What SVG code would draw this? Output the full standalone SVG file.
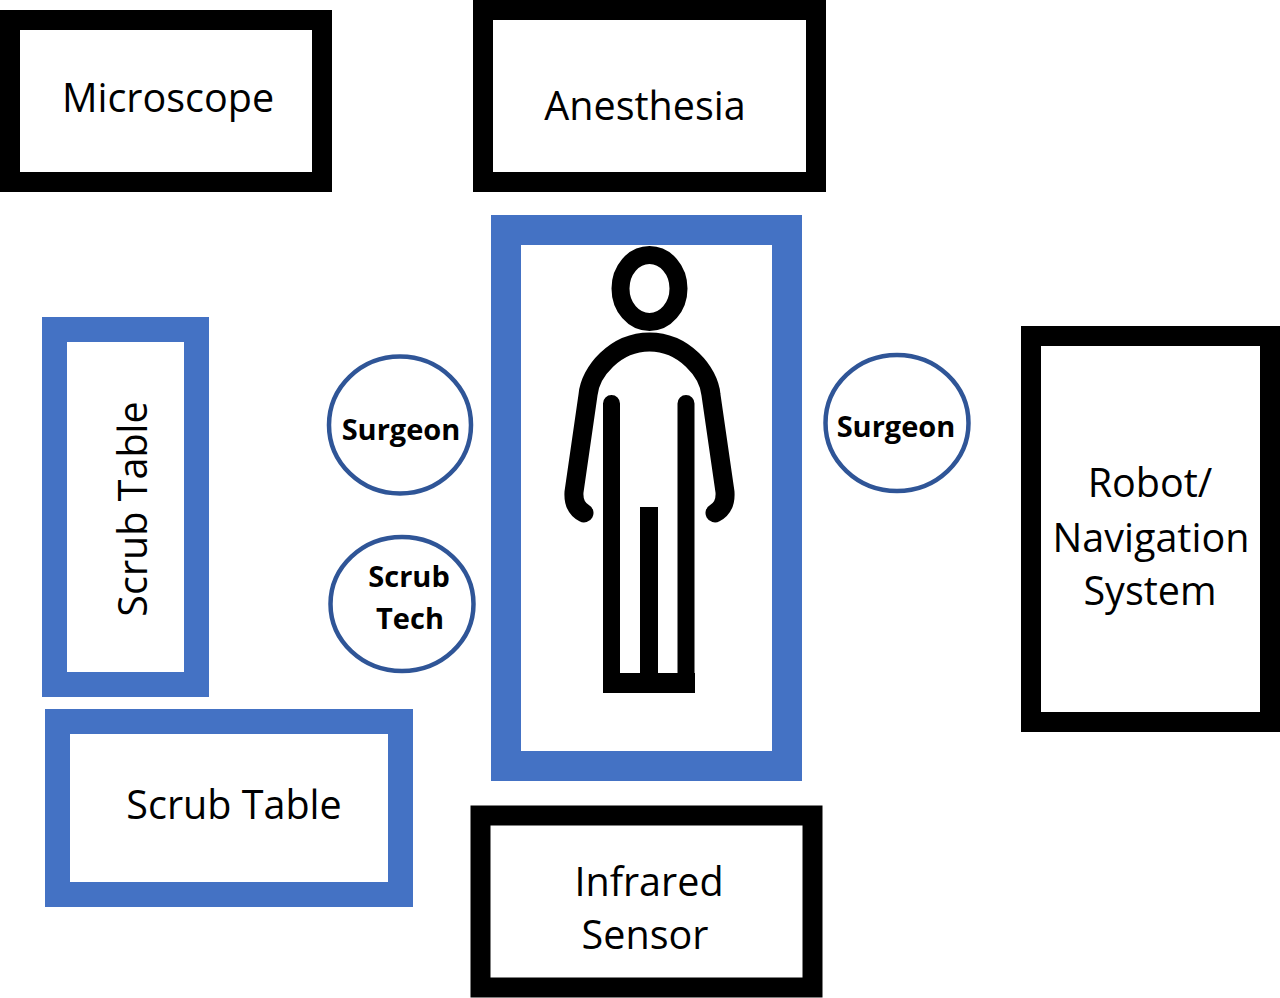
<svg xmlns="http://www.w3.org/2000/svg" width="1280" height="998" viewBox="0 0 1280 998">
<style>
.blk{fill:#fff;stroke:#000;stroke-width:20}
.blu{fill:#fff;stroke:#4472C4}
.ppl{fill:#fff;stroke:#2F5597;stroke-width:4.5}
.t{font-family:"Open Sans","Noto Sans","Liberation Sans",sans-serif;font-size:39.5px;fill:#000;text-anchor:middle}
.b{font-family:"Open Sans","Noto Sans","Liberation Sans",sans-serif;font-size:29px;font-weight:bold;fill:#000;text-anchor:middle}
.fig{fill:none;stroke:#000;stroke-linecap:round;stroke-linejoin:round}
</style>
<rect width="1280" height="998" fill="#fff"/>
<g id="microscope">
<rect class="blk" x="10" y="20" width="312" height="162"/>
<text class="t" x="168" y="112">Microscope</text>
</g>
<g id="anesthesia">
<rect class="blk" x="483" y="10" width="333" height="172"/>
<text class="t" x="645" y="120">Anesthesia</text>
</g>
<g id="patient-bed">
<rect class="blu" x="506" y="230" width="281" height="536" stroke-width="30"/>
<g id="patient">
<ellipse class="fig" cx="649.5" cy="288.5" rx="29" ry="33.5" stroke-width="18"/>
<path class="fig" stroke-width="19" d="M584 513 Q573 507 574 492 L588 395 C590 372 615 342 649.5 342 C684 342 709 372 711 395 L725 492 Q726 507 715 513"/>
<path class="fig" stroke-width="17" d="M611.5 403.5 V683 M686 403.5 V683"/>
<rect x="603" y="673" width="92" height="20" fill="#000"/>
<rect x="640" y="507" width="18" height="168" fill="#000"/>
</g>
</g>
<g id="scrub-table-vertical">
<rect class="blu" x="54.5" y="329.5" width="142" height="355" stroke-width="25"/>
<text class="t" transform="translate(147 509) rotate(-90)" x="0" y="0">Scrub Table</text>
</g>
<g id="scrub-table-horizontal">
<rect class="blu" x="57.5" y="721.5" width="343" height="173" stroke-width="25"/>
<text class="t" x="234" y="819">Scrub Table</text>
</g>
<g id="surgeon-left">
<ellipse class="ppl" cx="400" cy="425" rx="71" ry="68.5"/>
<text class="b" x="401" y="440">Surgeon</text>
</g>
<g id="scrub-tech">
<ellipse class="ppl" cx="402" cy="604" rx="71.5" ry="67"/>
<text class="b" x="409" y="587">Scrub</text>
<text class="b" x="410" y="629">Tech</text>
</g>
<g id="surgeon-right">
<ellipse class="ppl" cx="897" cy="423" rx="71.5" ry="68"/>
<text class="b" x="896" y="437">Surgeon</text>
</g>
<g id="robot-navigation">
<rect class="blk" x="1031" y="336" width="239" height="386"/>
<text class="t" x="1150" y="497">Robot/</text>
<text class="t" x="1151" y="552">Navigation</text>
<text class="t" x="1150" y="605">System</text>
</g>
<g id="infrared-sensor">
<rect class="blk" x="480.5" y="815.5" width="332" height="172" stroke-width="21"/>
<text class="t" x="649" y="896">Infrared</text>
<text class="t" x="645" y="949">Sensor</text>
</g>
<g id="connectors"/>
</svg>
